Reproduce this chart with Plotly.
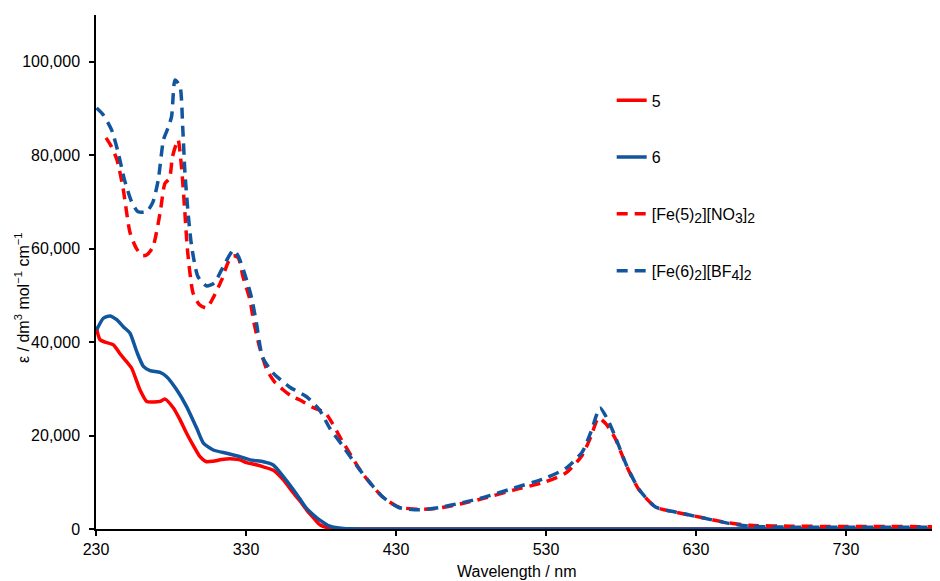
import plotly.graph_objects as go

# ---- data (wavelength nm, epsilon in dm3 mol-1 cm-1) ----
wl_5 = [230, 232.7, 236, 241.6, 246, 250.4, 253.8, 259.3, 263.8, 268, 272.7, 276, 281.6, 286, 290.4,
        295, 299.3, 303.8, 308, 312.7, 317, 321.6, 326, 330.4, 336, 341.6, 348, 354.9, 361.6, 366,
        370.4, 375, 379.3, 384, 390, 400, 450, 550, 650, 792.7]
eps_5 = [43300, 40500, 40000, 39400, 37500, 35800, 34400, 29800, 27300, 27200, 27300, 27800, 25900, 23400, 20500,
         17800, 15500, 14400, 14500, 14800, 15000, 15000, 14800, 14200, 13800, 13300, 12600, 10500, 7700, 6000,
         4100, 2400, 900, 300, 50, 0, 0, 0, 0, 0]

wl_6 = [230.4, 234.9, 239.3, 243.8, 248.2, 252.7, 257.1, 261.6, 266, 272.7, 277.1, 283.8, 290.4, 297.1, 301.6,
        308.2, 317.1, 326, 332.7, 341.6, 348.2, 354.9, 361.6, 366, 370.4, 375, 379.3, 386, 395, 410,
        450, 550, 650, 792.7]
eps_6 = [42600, 45100, 45600, 44800, 43300, 41900, 38000, 34800, 33900, 33500, 32600, 29800, 26200, 21600, 18400,
         16900, 16200, 15500, 14800, 14400, 13700, 11200, 8400, 6400, 4400, 3000, 1900, 600, 100, 0,
         0, 0, 0, 0]

wl_fe5 = [236.7, 240, 244, 248, 252.7, 257, 261, 264, 268, 272.7, 276, 279, 281, 284.7, 287, 289, 291, 294.7,
          299, 303.8, 308, 313.8, 318, 321.6, 324.9, 328, 332.7, 334.9, 339, 344, 349, 354.7, 360, 366,
          374.7, 383, 393.9, 407.4, 421, 431.9, 445.5, 459, 475, 489, 508, 529.7, 543.3, 554.2, 560, 565,
          570, 576, 584, 592, 603, 616.7, 633, 652, 665.6, 692.8, 792.7]
eps_fe5 = [83700, 82000, 79000, 73000, 63400, 60000, 58500, 58700, 60400, 67600, 74000, 75000, 79700, 83300, 77500,
           69000, 59700, 50500, 48000, 47300, 49400, 53300, 57000, 58500, 58000, 54000, 49000, 44800, 39000,
           34000, 31500, 29800, 28500, 27600, 26000, 24800, 19000, 12000, 6900, 4700, 4200, 4500, 5500, 6600,
           8300, 10100, 12000, 15800, 19800, 23800, 22500, 19500, 13300, 8400, 4700, 3600, 2500, 1300,
           800, 600, 500]

wl_fe6 = [230.4, 234.9, 240.4, 244.9, 249, 253.8, 258, 263.8, 268, 271.5, 275, 278, 280.4, 282.7, 286, 287.8,
          289.3, 291.6, 293.8, 298, 303.8, 309, 313.8, 321.6, 325, 330.4, 333.8, 337, 341, 348, 359, 370.4,
          379, 386, 394, 407.4, 421, 431.9, 445.5, 459, 475, 489, 508, 529.7, 543.3, 554.2, 560, 566,
          571, 576, 584, 592, 603, 616.7, 633, 652, 665.6, 692.8, 792.7]
eps_fe6 = [90100, 88600, 85400, 80400, 74700, 70000, 67900, 67900, 70000, 74700, 83300, 85800, 88300, 96100, 94700,
           86100, 76200, 66900, 60400, 54000, 52000, 52700, 55500, 59700, 58300, 53300, 49400, 44000, 36800, 33400,
           30400, 28300, 25500, 21500, 18000, 12000, 6900, 4600, 4100, 4600, 5700, 6800, 8700, 10900, 13000,
           16500, 20800, 25900, 23500, 19900, 13400, 8500, 4700, 3600, 2500, 1200, 600, 400, 400]


def sub(s):
    return '<sub><span style="font-size:14px">' + s + '</span></sub>'


names = ["5", "6", "[Fe(5)" + sub("2") + "][NO" + sub("3") + "]" + sub("2"),
         "[Fe(6)" + sub("2") + "][BF" + sub("4") + "]" + sub("2")]
x_ticks = [230, 330, 430, 530, 630, 730]
y_ticks = [0, 20000, 40000, 60000, 80000, 100000]

RED = "#FF0000"
BLUE = "#11559F"
DASH = "11px,7px"

fig = go.Figure()
series = [(wl_5, eps_5, RED, "solid"), (wl_6, eps_6, BLUE, "solid"),
          (wl_fe5, eps_fe5, RED, DASH), (wl_fe6, eps_fe6, BLUE, DASH)]
for i, (xs, ys, col, dash) in enumerate(series):
    fig.add_trace(go.Scatter(x=xs, y=ys, mode="lines", name=names[i], legendgroup=str(i),
                             line=dict(color=col, width=3.5, dash=dash, shape="spline", smoothing=0.6)))

font = dict(family="Liberation Sans, Arial, sans-serif", size=16, color="black")
# page body has an 8px margin: the figure is 932x573 so that the plot area sits at 96..940 x 15..529
fig.update_layout(
    width=932, height=573,
    margin=dict(l=88, r=0, t=7, b=52),
    paper_bgcolor="white", plot_bgcolor="white",
    font=font,
    showlegend=True,
    legend=dict(x=0.611, y=0.867, xanchor="left", yanchor="top", tracegroupgap=33,
                font=dict(family="Liberation Sans, Arial, sans-serif", size=16), bgcolor="rgba(0,0,0,0)"),
    xaxis=dict(range=[230, 792.7], tickvals=x_ticks, showline=True, linecolor="black", linewidth=1.5,
               ticks="outside", ticklen=5, tickcolor="black", tickwidth=1.5, showgrid=False, zeroline=False,
               automargin=False),
    yaxis=dict(range=[0, 110000], tickvals=y_ticks, tickformat=",", showline=True, linecolor="black",
               linewidth=1.5, ticks="outside", ticklen=5, tickcolor="black", tickwidth=1.5, showgrid=False,
               zeroline=False, ticklabelstandoff=6, automargin=False),
    annotations=[
        dict(text="ε / dm<sup>3</sup> mol<sup>−1</sup> cm<sup>−1</sup>", xref="paper", yref="paper",
             x=(22 - 96) / 844, y=(529 - 298) / 514, xanchor="center", yanchor="middle", textangle=-90,
             showarrow=False, font=font),
        dict(text="Wavelength / nm", xref="paper", yref="paper", x=(516 - 96) / 844, y=(529 - 571) / 514,
             xanchor="center", yanchor="middle", showarrow=False, font=font),
    ],
)
fig.write_html("out.html")
